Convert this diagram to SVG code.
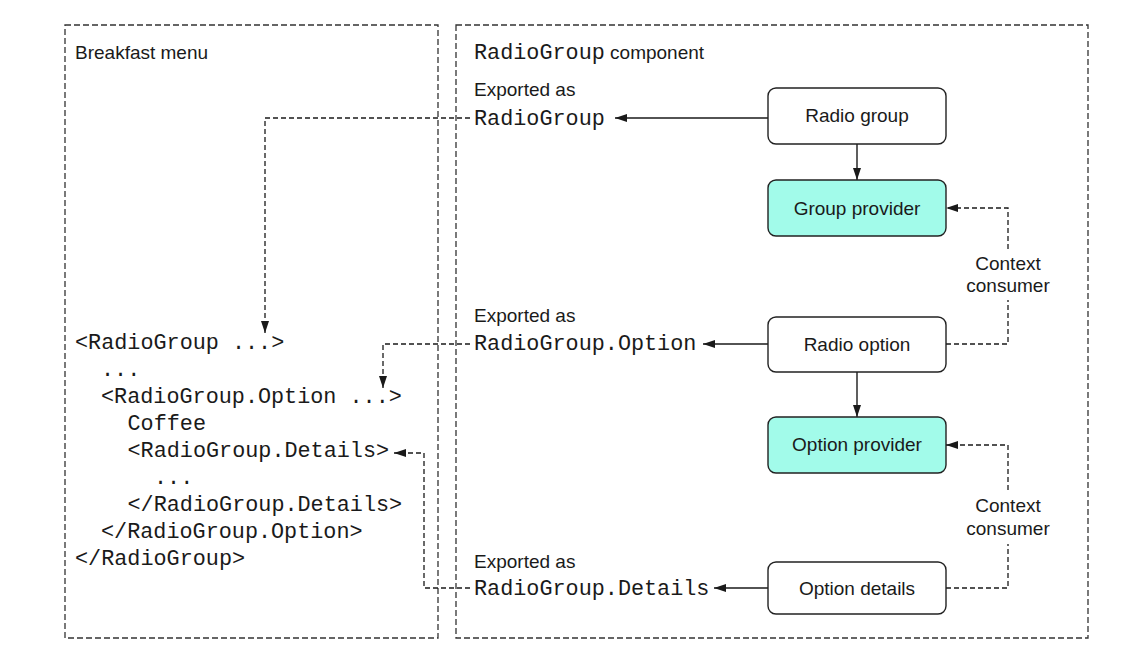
<svg xmlns="http://www.w3.org/2000/svg" width="1122" height="651" viewBox="0 0 1122 651">
  <defs>
    <marker id="ah" markerUnits="userSpaceOnUse" markerWidth="13" markerHeight="9" refX="12" refY="4" orient="auto">
      <path d="M0,0 L12,4 L0,8 z" fill="#1a1a1a"/>
    </marker>
    <style>
      .frame { fill: none; stroke: #333; stroke-width: 1.3; stroke-dasharray: 6 3; }
      .node { fill: #fff; stroke: #222; stroke-width: 1.4; }
      .prov { fill: #a2fbea; stroke: #222; stroke-width: 1.4; }
      .sans { font-family: "Liberation Sans", Arial, sans-serif; font-size: 19px; fill: #1a1a1a; }
      .mid { text-anchor: middle; }
      .mono { font-family: "Liberation Mono", "Courier New", monospace; font-size: 21.8px; fill: #1a1a1a; }
      .solid { fill: none; stroke: #1a1a1a; stroke-width: 1.4; }
      .dash { fill: none; stroke: #1a1a1a; stroke-width: 1.3; stroke-dasharray: 5 3; }
    </style>
  </defs>

  <g id="frames">
    <rect id="breakfast-frame" class="frame" x="65" y="25" width="373" height="613"/>
    <rect id="component-frame" class="frame" x="456" y="25" width="632" height="613"/>
    <text class="sans" x="75" y="59">Breakfast menu</text>
    <text x="474" y="59"><tspan class="mono">RadioGroup</tspan><tspan class="sans"> component</tspan></text>
  </g>

  <g id="code">
    <text class="mono" x="75" y="349">&lt;RadioGroup ...&gt;</text>
    <text class="mono" x="101" y="376">...</text>
    <text class="mono" x="101" y="403">&lt;RadioGroup.Option ...&gt;</text>
    <text class="mono" x="127.5" y="430">Coffee</text>
    <text class="mono" x="127.5" y="457">&lt;RadioGroup.Details&gt;</text>
    <text class="mono" x="154" y="484">...</text>
    <text class="mono" x="127.5" y="511">&lt;/RadioGroup.Details&gt;</text>
    <text class="mono" x="101" y="538">&lt;/RadioGroup.Option&gt;</text>
    <text class="mono" x="75" y="565">&lt;/RadioGroup&gt;</text>
  </g>

  <g id="export-labels">
    <text class="sans" x="474" y="96">Exported as</text>
    <text class="mono" x="474" y="125">RadioGroup</text>
    <text class="sans" x="474" y="322">Exported as</text>
    <text class="mono" x="474" y="350">RadioGroup.Option</text>
    <text class="sans" x="474" y="568">Exported as</text>
    <text class="mono" x="474" y="595">RadioGroup.Details</text>
  </g>

  <g id="connectors">
    <path class="solid" d="M768,118 H615" marker-end="url(#ah)"/>
    <path class="solid" d="M857,144 V180" marker-end="url(#ah)"/>
    <path class="solid" d="M768,344 H703" marker-end="url(#ah)"/>
    <path class="solid" d="M857,372 V417" marker-end="url(#ah)"/>
    <path class="solid" d="M768,588 H714" marker-end="url(#ah)"/>
    <path class="dash" d="M946,344 H1008 V300 M1008,249 V208 H946" marker-end="url(#ah)"/>
    <path class="dash" d="M946,588 H1008 V544 M1008,490 V445 H946" marker-end="url(#ah)"/>
    <path class="dash" d="M470,118 H265 V333" marker-end="url(#ah)"/>
    <path class="dash" d="M470,344 H383 V388" marker-end="url(#ah)"/>
    <path class="dash" d="M470,588 H424 V453 H394" marker-end="url(#ah)"/>
    <text class="sans mid" x="1008" y="270">Context</text>
    <text class="sans mid" x="1008" y="292">consumer</text>
    <text class="sans mid" x="1008" y="512">Context</text>
    <text class="sans mid" x="1008" y="535">consumer</text>
  </g>

  <g id="radio-group">
    <rect class="node" x="768" y="88" width="178" height="56" rx="8"/>
    <text class="sans mid" x="857" y="122">Radio group</text>
  </g>
  <g id="group-provider">
    <rect class="prov" x="768" y="180" width="178" height="56" rx="8"/>
    <text class="sans mid" x="857" y="215">Group provider</text>
  </g>
  <g id="radio-option">
    <rect class="node" x="768" y="317" width="178" height="55" rx="8"/>
    <text class="sans mid" x="857" y="351">Radio option</text>
  </g>
  <g id="option-provider">
    <rect class="prov" x="768" y="417" width="178" height="56" rx="8"/>
    <text class="sans mid" x="857" y="451">Option provider</text>
  </g>
  <g id="option-details">
    <rect class="node" x="768" y="562" width="178" height="52" rx="8"/>
    <text class="sans mid" x="857" y="595">Option details</text>
  </g>
</svg>
